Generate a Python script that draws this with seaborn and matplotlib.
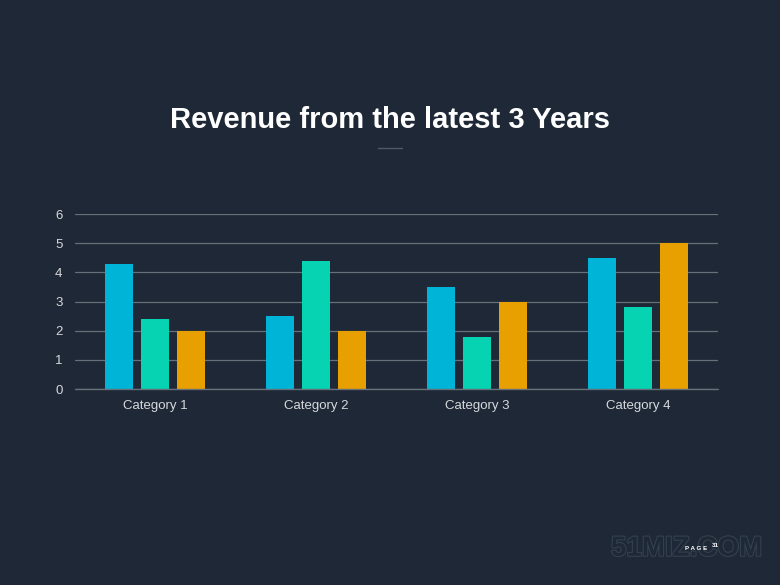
import pandas as pd
import seaborn as sns
import matplotlib.pyplot as plt
import matplotlib.patheffects as pe

# --- data ---
categories = ['Category 1', 'Category 2', 'Category 3', 'Category 4']
series_names = ['Series 1', 'Series 2', 'Series 3']
series_1 = [4.3, 2.5, 3.5, 4.5]
series_2 = [2.4, 4.4, 1.8, 2.8]
series_3 = [2.0, 2.0, 3.0, 5.0]
y_ticks = [0, 1, 2, 3, 4, 5, 6]

BG = '#1E2836'
COLORS = ['#00B4D8', '#06D3B2', '#E89F00']

df = pd.DataFrame({
    'Category': categories * 3,
    'Series': [s for s in series_names for _ in categories],
    'Value': series_1 + series_2 + series_3,
})

sns.set_theme(style='dark')
plt.rcParams['font.family'] = ['Liberation Sans', 'DejaVu Sans']

fig = plt.figure(figsize=(7.8, 5.85), dpi=100)
fig.patch.set_facecolor(BG)
ax = fig.add_axes([0.096, 0.335, 0.825, 0.299])
ax.set_facecolor(BG)

sns.barplot(
    data=df, x='Category', y='Value', hue='Series',
    palette=COLORS, saturation=1, width=0.672, gap=0.22,
    edgecolor='none', legend=False, ax=ax, zorder=3
)

ax.set_ylim(0, 6)
ax.set_yticks(y_ticks)
ax.set_xlim(-0.5, 3.5)
ax.grid(axis='y', color='#66707A', linewidth=0.9, zorder=0)
ax.grid(axis='x', visible=False)
ax.axhline(0, color='#66707A', linewidth=1.0, zorder=4, clip_on=False)
for s in ax.spines.values():
    s.set_visible(False)
ax.tick_params(axis='both', length=0, colors='#D6D9DC', labelsize=9.5)
ax.tick_params(axis='x', pad=8)
ax.tick_params(axis='y', pad=9)
ax.set_xlabel('')
ax.set_ylabel('')

# title and decorations
fig.text(0.5, 0.795, 'Revenue from the latest 3 Years', ha='center', va='center',
         color='white', fontsize=21, fontweight='bold')
fig.add_artist(plt.Line2D([0.485, 0.515], [0.747, 0.747], color='#4E5A66', linewidth=1))
fig.text(0.977, 0.062, '51MIZ.COM', ha='right', va='center', fontsize=20, fontweight='bold',
         color=BG, path_effects=[pe.withStroke(linewidth=1.5, foreground='#36424F')])
fig.text(0.907, 0.063, 'P A G E', ha='right', va='center', color='white', fontsize=4.5, fontweight='bold')
fig.text(0.913, 0.068, '31', ha='left', va='center', color='white', fontsize=4.5, fontweight='bold')

plt.savefig('out.png', dpi=100, facecolor=BG)
